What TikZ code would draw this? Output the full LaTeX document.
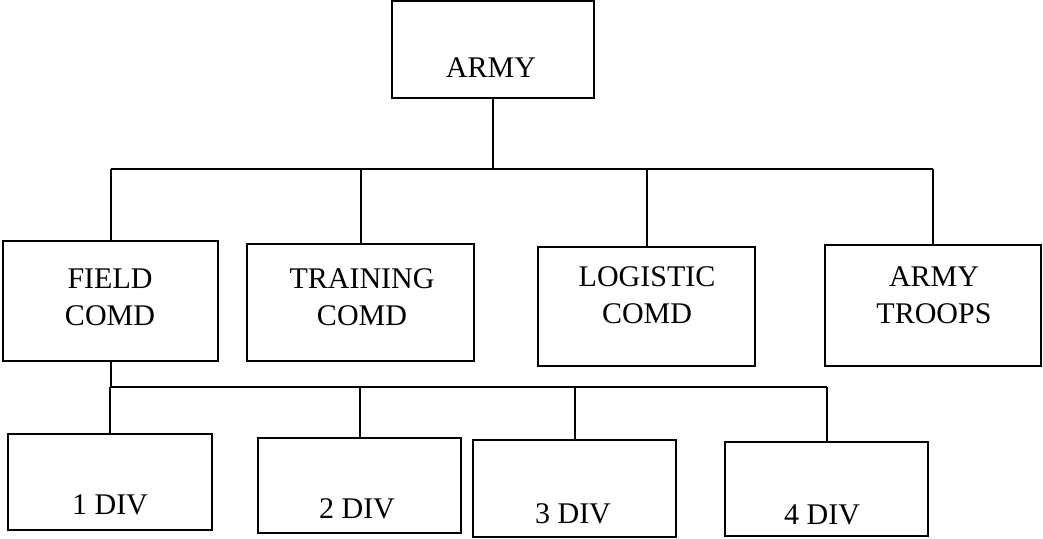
\documentclass[tikz,border=0pt]{standalone}
\usepackage{fontspec}
\setmainfont{Liberation Serif}
\begin{document}
\begin{tikzpicture}[x=1pt,y=-1pt,
  box/.style={draw=black,line width=2pt,inner sep=0pt,outer sep=0pt,rectangle},
  lbl/.style={font=\fontsize{30}{37}\selectfont,align=center,inner sep=0pt},
  conn/.style={draw=black,line width=2pt}]
\useasboundingbox (0,0) rectangle (1043,538);
% boxes
\node[box,minimum width=202pt,minimum height=97pt] (army) at (493,49.5) {};
\node[box,minimum width=215pt,minimum height=120pt] (field) at (110.5,301) {};
\node[box,minimum width=227pt,minimum height=117pt] (training) at (360.5,302.5) {};
\node[box,minimum width=217pt,minimum height=119pt] (logistic) at (646.5,306.5) {};
\node[box,minimum width=216pt,minimum height=121pt] (troops) at (933,305.5) {};
\node[box,minimum width=204pt,minimum height=96pt] (d1) at (110,482) {};
\node[box,minimum width=203pt,minimum height=95pt] (d2) at (359.5,485.5) {};
\node[box,minimum width=203pt,minimum height=97pt] (d3) at (574.5,488.5) {};
\node[box,minimum width=203pt,minimum height=94pt] (d4) at (826.5,489) {};
% labels
\node[lbl] (armyT) at (491,68) {ARMY};
\node[lbl] (fieldT) at (110,297) {FIELD\\COMD};
\node[lbl] (trainingT) at (362,297) {TRAINING\\COMD};
\node[lbl] (logisticT) at (647,295) {LOGISTIC\\COMD};
\node[lbl] (troopsT) at (934,295) {ARMY\\TROOPS};
\node[lbl] (d1T) at (110,505) {1 DIV};
\node[lbl] (d2T) at (357,509) {2 DIV};
\node[lbl] (d3T) at (573,514) {3 DIV};
\node[lbl] (d4T) at (822,515) {4 DIV};
% buses
\coordinate (busA) at (0,169);
\coordinate (busB) at (0,387);
\draw[conn] (army.south) -- (army.south |- busA);
\draw[conn] (field.north |- busA) -- (troops.north |- busA);
\foreach \n in {field,training,logistic,troops}
  \draw[conn] (\n.north) -- (\n.north |- busA);
\draw[conn] (field.south) -- (field.south |- busB);
\draw[conn] (d1.north |- busB) -- (d4.north |- busB);
\foreach \n in {d1,d2,d3,d4}
  \draw[conn] (\n.north) -- (\n.north |- busB);
\end{tikzpicture}
\end{document}
